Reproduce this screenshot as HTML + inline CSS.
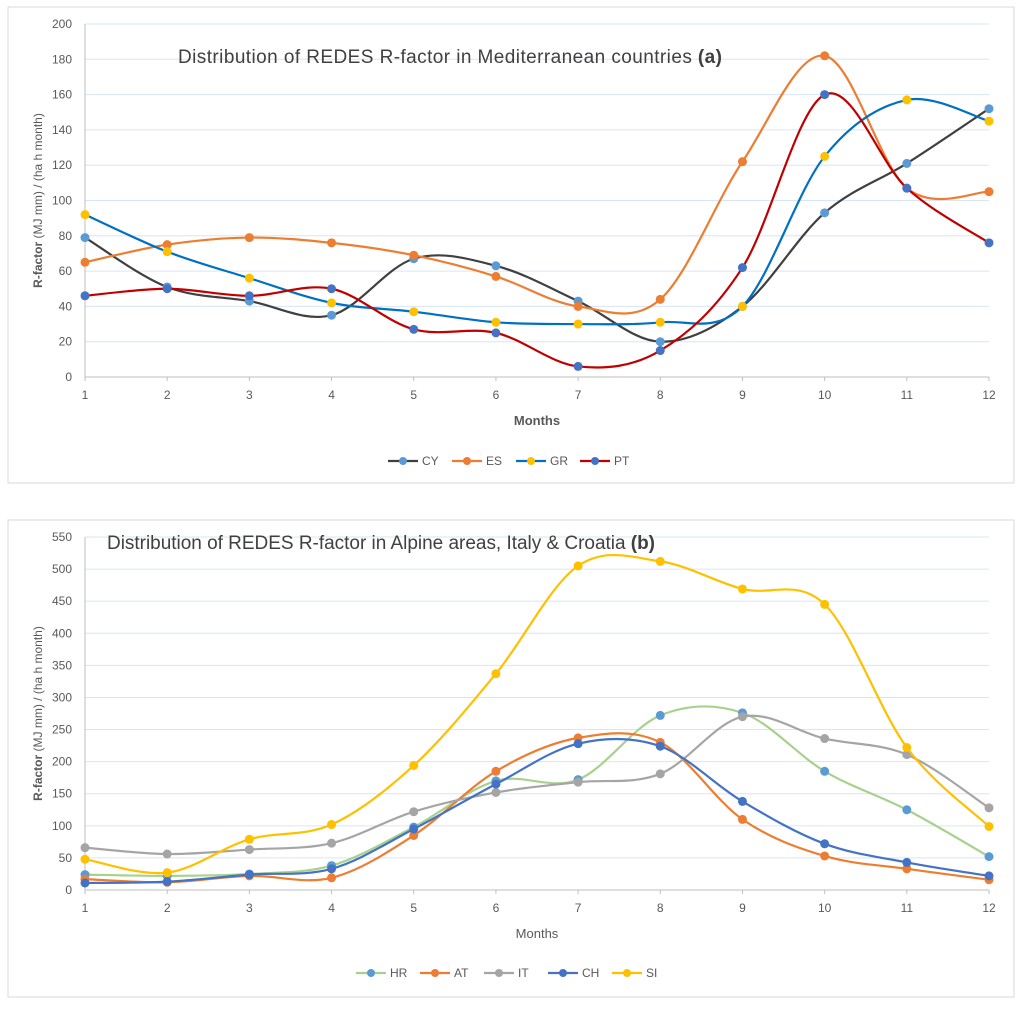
<!DOCTYPE html>
<html><head><meta charset="utf-8">
<style>
body{margin:0;background:#fff;width:1024px;height:1007px;overflow:hidden;font-family:"Liberation Sans",sans-serif;}
svg text{font-family:"Liberation Sans",sans-serif;}
</style></head>
<body>
<svg id="svg" width="1024" height="1007" xmlns="http://www.w3.org/2000/svg"></svg>
<script>
const months = [1,2,3,4,5,6,7,8,9,10,11,12];
// Chart (a)
const ticksA = [0,20,40,60,80,100,120,140,160,180,200];
const cyVals = [79,51,43,35,67,63,43,20,40,93,121,152];
const esVals = [65,75,79,76,69,57,40,44,122,182,107,105];
const grVals = [92,71,56,42,37,31,30,31,40,125,157,145];
const ptVals = [46,50,46,50,27,25,6,15,62,160,107,76];
// Chart (b)
const ticksB = [0,50,100,150,200,250,300,350,400,450,500,550];
const hrVals = [24,22,25,38,98,170,172,272,276,185,125,52];
const atVals = [17,12,22,19,85,185,237,230,110,53,33,16];
const itVals = [66,56,63,73,122,152,168,181,270,236,211,128];
const chVals = [11,13,24,33,95,165,228,224,138,72,43,22];
const siVals = [48,27,79,102,194,337,505,512,469,445,222,99];

const NS='http://www.w3.org/2000/svg';
const svg=document.getElementById('svg');
function mk(tag,attrs,parent,text){const e=document.createElementNS(NS,tag);for(const k in attrs)e.setAttribute(k,attrs[k]);if(text!==undefined)e.textContent=text;(parent||svg).appendChild(e);return e;}
function smooth(pts){
  let d='M'+pts[0][0]+','+pts[0][1];
  for(let i=0;i<pts.length-1;i++){
    const p0=pts[i-1]||pts[i],p1=pts[i],p2=pts[i+1],p3=pts[i+2]||p2;
    const t=1/6;
    const c1=[p1[0]+(p2[0]-p0[0])*t,p1[1]+(p2[1]-p0[1])*t];
    const c2=[p2[0]-(p3[0]-p1[0])*t,p2[1]-(p3[1]-p1[1])*t];
    d+=' C'+c1[0]+','+c1[1]+' '+c2[0]+','+c2[1]+' '+p2[0]+','+p2[1];
  }
  return d;
}
function chart(cfg){
  const g=mk('g',{});
  
  
  const fr=mk('rect',{x:cfg.fx,y:cfg.fy,width:cfg.fw,height:cfg.fh,fill:'#fff',stroke:'#d9d9d9','stroke-width':1},g);
  
  
  const x0=85,x1=989;
  const xs=m=>x0+(m-1)*(x1-x0)/11;
  const ys=v=>cfg.y0-(v/cfg.max)*(cfg.y0-cfg.yTop);
  cfg.ticks.forEach(t=>{
    if(t>0){const l=mk('line',{x1:x0,x2:x1,y1:ys(t),y2:ys(t),stroke:'#d6e6f5','stroke-width':1},g);
      }
    const tx=mk('text',{x:72,y:ys(t)+4,'text-anchor':'end','font-size':12,fill:'#595959'},g,t);
    
  });
  const ax=mk('line',{x1:x0,x2:x1,y1:cfg.y0,y2:cfg.y0,stroke:'#bfbfbf'},g);
  
  const ay=mk('line',{x1:x0,x2:x0,y1:cfg.yTop,y2:cfg.y0,stroke:'#bfbfbf'},g);
  
  months.forEach(m=>{
    mk('line',{x1:xs(m),x2:xs(m),y1:cfg.y0,y2:cfg.y0+4,stroke:'#bfbfbf'},g);
    const tx=mk('text',{x:xs(m),y:cfg.y0+22,'text-anchor':'middle','font-size':12,fill:'#595959'},g,m);
    
  });
  const xt=mk('text',{x:537,y:cfg.y0+48,'text-anchor':'middle','font-size':13,'font-weight':cfg.xBold?'bold':'normal',fill:'#595959'},g,'Months');
  
  const yt=mk('text',{transform:'translate(42,'+((cfg.y0+cfg.yTop)/2)+') rotate(-90)','text-anchor':'middle','font-size':12,fill:'#595959'},g);
  
  mk('tspan',{'font-weight':'bold'},yt,'R-factor');
  mk('tspan',{},yt,'  (MJ mm)  / (ha h month)');
  const ti=mk('text',{x:cfg.tx,y:cfg.ty,'font-size':19,fill:'#404040',textLength:cfg.tl,lengthAdjust:'spacing'},g);
  
  mk('tspan',{},ti,cfg.title+' ');
  mk('tspan',{'font-weight':'bold'},ti,cfg.tag);
  cfg.series.forEach(s=>{
    const pts=s.vals.map((v,i)=>[xs(months[i]),ys(v)]);
    const p=mk('path',{d:smooth(pts),fill:'none',stroke:s.line,'stroke-width':2.2},g);
    
    pts.forEach(pt=>{const c=mk('circle',{cx:pt[0],cy:pt[1],r:4.5,fill:s.mark},g);
      });
  });
  const lw=64, total=cfg.series.length*lw;
  let lx=512-total/2+4;
  cfg.series.forEach(s=>{
    const lg=mk('g',{},g);
    
    mk('line',{x1:lx,x2:lx+30,y1:cfg.ly,y2:cfg.ly,stroke:s.line,'stroke-width':2.2},lg);
    mk('circle',{cx:lx+15,cy:cfg.ly,r:4,fill:s.mark},lg);
    mk('text',{x:lx+34,y:cfg.ly+4,'font-size':12,fill:'#595959'},lg,s.key);
    lx+=lw;
  });
}
chart({name:'chart-a',fx:8,fy:7,fw:1006,fh:476,y0:377,yTop:24,max:200,ticks:ticksA,xBold:true,
  tx:178,ty:63,tl:544,title:'Distribution of REDES R-factor in Mediterranean countries',tag:'(a)',ly:461,
  series:[{key:'CY',vals:cyVals,line:'#404040',mark:'#5B9BD5'},{key:'ES',vals:esVals,line:'#ED7D31',mark:'#ED7D31'},
          {key:'GR',vals:grVals,line:'#0070C0',mark:'#FFC000'},{key:'PT',vals:ptVals,line:'#C00000',mark:'#4472C4'}]});
chart({name:'chart-b',fx:8,fy:520,fw:1006,fh:477,y0:890,yTop:537,max:550,ticks:ticksB,xBold:false,
  tx:107,ty:549,tl:548,title:'Distribution of REDES R-factor in Alpine areas, Italy & Croatia',tag:'(b)',ly:973,
  series:[{key:'HR',vals:hrVals,line:'#A9D18E',mark:'#5B9BD5'},{key:'AT',vals:atVals,line:'#ED7D31',mark:'#ED7D31'},
          {key:'IT',vals:itVals,line:'#A5A5A5',mark:'#A5A5A5'},{key:'CH',vals:chVals,line:'#4472C4',mark:'#4472C4'},
          {key:'SI',vals:siVals,line:'#FFC000',mark:'#FFC000'}]});
</script>
</body></html>
